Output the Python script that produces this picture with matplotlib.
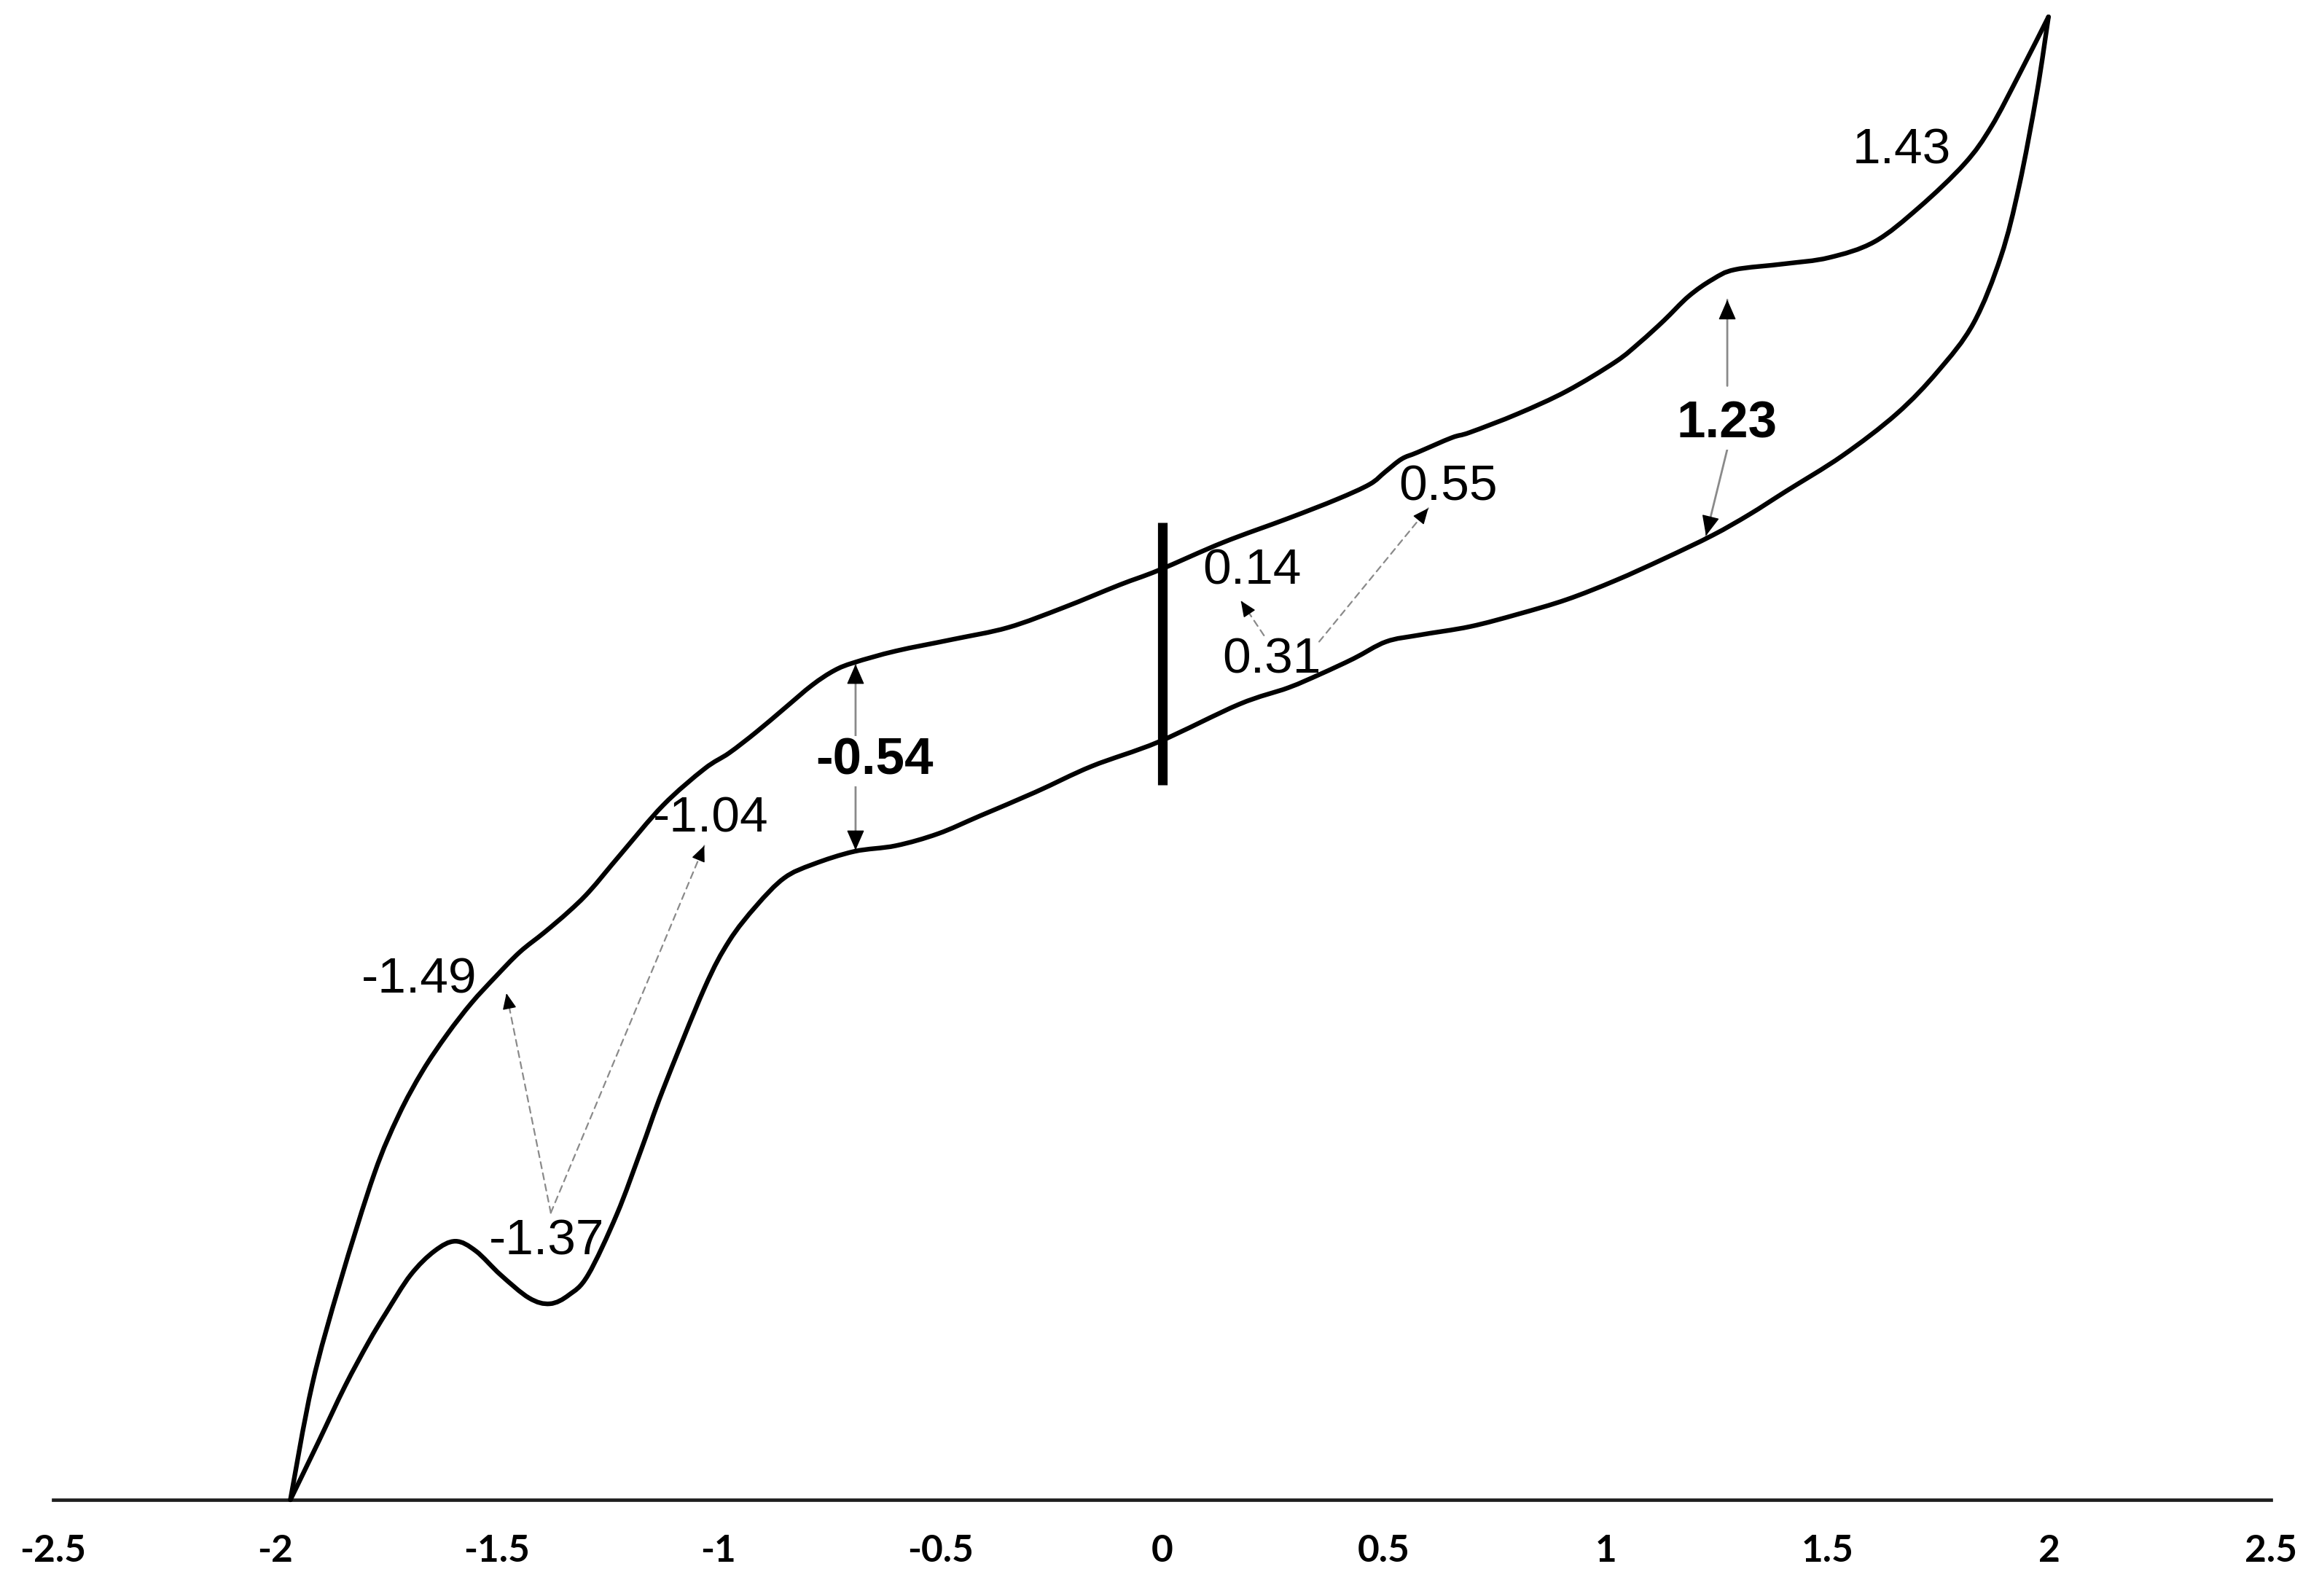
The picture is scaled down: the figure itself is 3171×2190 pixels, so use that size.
import numpy as np
import matplotlib
matplotlib.use('Agg')
import matplotlib.pyplot as plt
from matplotlib.path import Path
from matplotlib.patches import PathPatch

#################### DATOS ###################

# Barrido directo (curva superior), desde -2 hasta 2
up_x = [-1.965, -1.916, -1.853, -1.776, -1.721, -1.667, -1.612, -1.557, -1.502,
        -1.448, -1.393, -1.338, -1.291, -1.221, -1.125, -1.032, -0.976, -0.915, -0.852,
        -0.789, -0.739, -0.694, -0.600, -0.473, -0.347, -0.222, -0.096, -0.008, 0.138,
        0.284, 0.394, 0.468, 0.503, 0.540, 0.576, 0.653, 0.694, 0.802, 0.912,
        1.022, 1.077, 1.131, 1.187, 1.241, 1.291, 1.402, 1.503, 1.606, 1.706,
        1.809, 1.869, 1.932, 1.998]
up_y = [0.000, 0.259, 0.490, 0.735, 0.867, 0.967, 1.049, 1.120, 1.180,
        1.235, 1.279, 1.326, 1.372, 1.455, 1.566, 1.648, 1.684, 1.731, 1.784,
        1.837, 1.870, 1.888, 1.914, 1.940, 1.967, 2.012, 2.063, 2.096, 2.159,
        2.213, 2.256, 2.290, 2.318, 2.347, 2.362, 2.395, 2.407, 2.449, 2.500,
        2.566, 2.610, 2.659, 2.714, 2.752, 2.774, 2.787, 2.801, 2.837, 2.914,
        3.013, 3.096, 3.214, 3.344]

# Barrido inverso (curva inferior)
low_x = [-1.965, -1.902, -1.842, -1.789, -1.749, -1.694, -1.640, -1.593, -1.547, -1.491,
         -1.427, -1.380, -1.337, -1.294, -1.229, -1.174, -1.125, -1.032, -0.976, -0.915,
         -0.852, -0.787, -0.694, -0.600, -0.505, -0.411, -0.285, -0.159, -0.008, 0.174,
         0.284, 0.357, 0.432, 0.505, 0.580, 0.694, 0.802, 0.912, 1.022, 1.131,
         1.241, 1.324, 1.406, 1.533, 1.656, 1.749, 1.829, 1.891, 1.932, 1.972,
         1.998]
low_y = [0.000, 0.130, 0.256, 0.355, 0.422, 0.507, 0.561, 0.583, 0.561, 0.507,
         0.455, 0.442, 0.462, 0.507, 0.644, 0.790, 0.925, 1.153, 1.260, 1.339,
         1.402, 1.433, 1.462, 1.475, 1.502, 1.542, 1.596, 1.654, 1.709, 1.794,
         1.831, 1.862, 1.897, 1.935, 1.950, 1.969, 1.997, 2.030, 2.073, 2.122,
         2.175, 2.222, 2.274, 2.354, 2.449, 2.545, 2.653, 2.804, 2.963, 3.173,
         3.344]

# Barra vertical en 0
bar_x = 0.0
bar_y = [1.612, 2.204]

# Etiquetas de potencial
labels = ['-1.49', '-1.04', '-1.37', '0.14', '0.31', '0.55', '1.43']
lab_x = [-1.674, -1.018, -1.387, 0.202, 0.2475, 0.644, 1.667]
lab_y = [1.172, 1.535, 0.583, 2.094, 1.894, 2.283, 3.043]

bold_labels = ['-0.54', '1.23']
bold_x = [-0.648, 1.274]
bold_y = [1.665, 2.424]

# Flechas punteadas (inicio -> punta)
dash_start = [(-1.378, 0.647), (-1.378, 0.647), (0.2296, 1.949), (0.354, 1.935)]
dash_tip = [(-1.478, 1.142), (-1.032, 1.475), (0.1777, 2.027), (0.600, 2.236)]

# Flechas continuas (inicio -> punta)
solid_start = [(-0.691, 1.675), (-0.691, 1.675), (1.274, 2.512), (1.274, 2.369)]
solid_tip = [(-0.691, 1.884), (-0.691, 1.465), (1.274, 2.706), (1.226, 2.174)]

ticks = [-2.5, -2, -1.5, -1, -0.5, 0, 0.5, 1, 1.5, 2, 2.5]
tick_labels = ['-2.5', '-2', '-1.5', '-1', '-0.5', '0', '0.5', '1', '1.5', '2', '2.5']

#################### FIGURA ###################

fig = plt.figure(figsize=(31.71, 21.90), dpi=100)
ax = fig.add_axes([0.02296, 0.0603, 0.9598, 0.9397])
ax.set_xlim(-2.5, 2.5)
ax.set_ylim(0, 3.382)


def smooth_path(xs, ys):
    # Curva suave (Catmull-Rom -> Bezier cubico) que pasa por los puntos
    p = np.column_stack([xs, ys])
    ext = np.vstack([p[0], p, p[-1]])
    verts = [p[0]]
    codes = [Path.MOVETO]
    for i in range(1, len(ext) - 2):
        c1 = ext[i] + (ext[i + 1] - ext[i - 1]) / 6
        c2 = ext[i + 1] - (ext[i + 2] - ext[i]) / 6
        verts += [c1, c2, ext[i + 1]]
        codes += [Path.CURVE4] * 3
    return Path(verts, codes)


for xs, ys in [(up_x, up_y), (low_x, low_y)]:
    patch = PathPatch(smooth_path(xs, ys), facecolor='none', edgecolor='black',
                      lw=4.6, joinstyle='round', capstyle='round', clip_on=False, zorder=3)
    ax.add_patch(patch)

ax.plot([bar_x, bar_x], bar_y, color='black', lw=9.5, solid_capstyle='butt', zorder=4)


def arrow(start, tip, dashed):
    start = np.array(start)
    tip = np.array(tip)
    ax.annotate('', xy=tip, xytext=start,
                arrowprops=dict(arrowstyle='-', color='#8a8a8a',
                                lw=1.6 if dashed else 2.0,
                                linestyle=(0, (4, 3)) if dashed else '-',
                                shrinkA=0, shrinkB=0), zorder=2)
    d = (tip - start) / np.hypot(*(tip - start))
    back = tip - d * 0.03
    ax.annotate('', xy=tip, xytext=back,
                arrowprops=dict(arrowstyle='-|>,head_length=0.8,head_width=0.35',
                                color='black', lw=1.0,
                                mutation_scale=22 if not dashed else 17,
                                shrinkA=0, shrinkB=0), zorder=2)


for s, t in zip(dash_start, dash_tip):
    arrow(s, t, True)
for s, t in zip(solid_start, solid_tip):
    arrow(s, t, False)

for txt, x, y in zip(labels, lab_x, lab_y):
    ax.text(x, y, txt, fontsize=50, family='Liberation Sans', ha='center', va='center', zorder=5)

for txt, x, y in zip(bold_labels, bold_x, bold_y):
    ax.text(x, y, txt, fontsize=51, family='Liberation Sans', fontweight='bold',
            ha='center', va='center', zorder=5,
            bbox=dict(facecolor='white', edgecolor='none', pad=1))

# Ejes
for side in ['left', 'right', 'top']:
    ax.spines[side].set_visible(False)
ax.spines['bottom'].set_linewidth(3.4)
ax.spines['bottom'].set_color('#1e1e1e')
ax.set_yticks([])
ax.set_xticks(ticks)
ax.set_xticklabels(tick_labels, fontsize=37, fontweight='bold', family='Lato')
ax.tick_params(axis='x', length=0, pad=34)

fig.savefig('out.png', dpi=100)
